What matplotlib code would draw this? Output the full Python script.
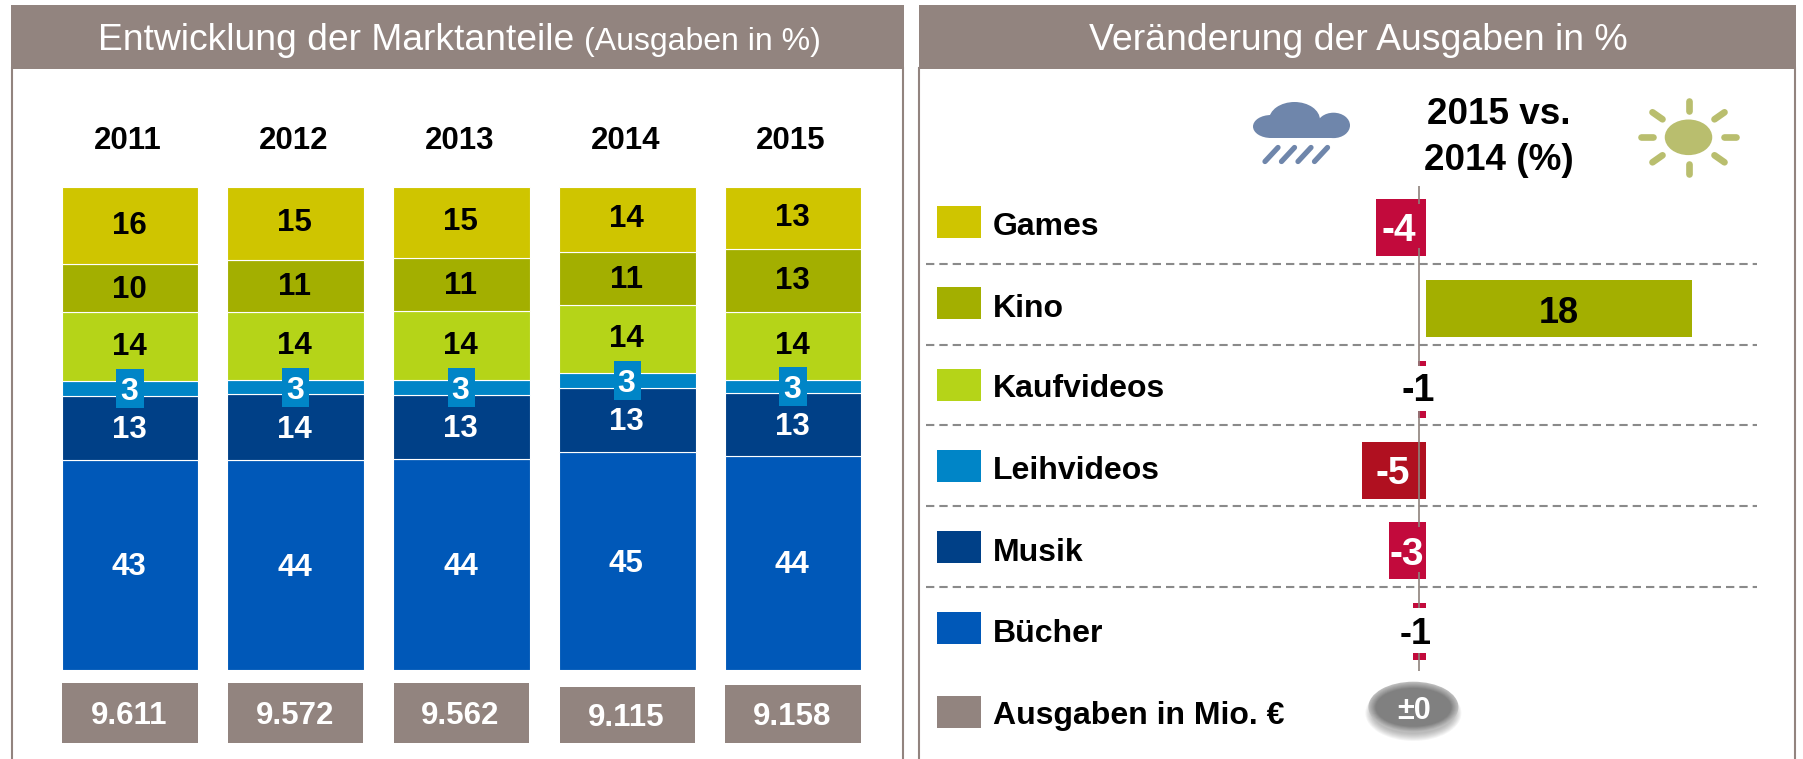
import matplotlib
matplotlib.use("Agg")
import matplotlib.pyplot as plt
from matplotlib.patches import Rectangle, Ellipse

plt.rcParams['font.family'] = ['Liberation Sans', 'DejaVu Sans']

# ---------- data ----------
years = ['2011', '2012', '2013', '2014', '2015']
segments = ['Games', 'Kino', 'Kaufvideos', 'Leihvideos', 'Musik', 'Bücher']
games = [16.0, 15.04, 14.7, 13.39, 12.7]
kino = [9.94, 10.9, 11.04, 10.9, 13.04]
kaufvideos = [14.2, 13.94, 14.15, 14.2, 14.15]
leihvideos = [3.04, 3.04, 3.04, 2.97, 2.62]
musik = [13.2, 13.53, 13.25, 13.3, 13.04]
buecher = [43.6, 43.55, 43.8, 45.2, 44.4]
label_games = ['16', '15', '15', '14', '13']
label_kino = ['10', '11', '11', '11', '13']
label_kauf = ['14', '14', '14', '14', '14']
label_leih = ['3', '3', '3', '3', '3']
label_musik = ['13', '14', '13', '13', '13']
label_buecher = ['43', '44', '44', '45', '44']
totals = ['9.611', '9.572', '9.562', '9.115', '9.158']
change_values = [-3.35, 18, -0.55, -4.3, -2.5, -0.9]
change_labels = ['-4', '18', '-1', '-5', '-3', '-1']
legend_labels = segments + ['Ausgaben in Mio. €']
overall_change = '±0'

# ---------- style ----------
W, H = 1803, 759
BROWN = '#92847F'
C_GAMES, C_KINO, C_KAUF = '#CFC500', '#A3AF00', '#B5D418'
C_LEIH, C_MUSIK, C_BUCH = '#0085C7', '#004087', '#0058B8'
RED, DARKRED = '#C20A3C', '#B01020'
seg_colors = [C_GAMES, C_KINO, C_KAUF, C_LEIH, C_MUSIK, C_BUCH]
seg_text = ['black', 'black', 'black', 'white', 'white', 'white']
label_shift = [0.75, 0.45, 0.65, 0.0, 0.2, 0.2]

fig = plt.figure(figsize=(W / 100, H / 100), dpi=100, facecolor='white')


def axes_px(x0, y0, x1, y1, z=1):
    ax = fig.add_axes([x0 / W, 1 - y1 / H, (x1 - x0) / W, (y1 - y0) / H], zorder=z)
    ax.set_axis_off()
    ax.patch.set_alpha(0)
    return ax


def txt(ax, x, y, s, size, color='black', weight='bold', ha='center', z=10):
    """y is the centre of the digit height."""
    ax.text(x, y + 0.35 * size * 100 / 72, s, fontsize=size, color=color, weight=weight,
            ha=ha, va='baseline', zorder=z)


# overlays in pixels
ov = axes_px(0, 0, W, H, 0)
ov.set_xlim(0, W)
ov.set_ylim(H, 0)
top = axes_px(0, 0, W, H, 5)
top.set_xlim(0, W)
top.set_ylim(H, 0)

# panels
for x0, x1 in [(11, 904), (918.5, 1795.5)]:
    ov.add_patch(Rectangle((x0, 5), x1 - x0, 63.5, color=BROWN, lw=0))
    ov.plot([x0 + .7, x0 + .7], [68, H], color=BROWN, lw=1.5)
    ov.plot([x1 - .7, x1 - .7], [68, H], color=BROWN, lw=1.5)

ov.text(98.5, 50, 'Entwicklung der Marktanteile', fontsize=26.8, color='white', va='baseline')
ov.text(584, 50, '(Ausgaben in %)', fontsize=23, color='white', va='baseline')
ov.text(1358, 50, 'Veränderung der Ausgaben in %', fontsize=26.9, color='white', va='baseline', ha='center')

# ---------- stacked bars ----------
ax = axes_px(62, 187, 861, 670.2, 1)
ax.set_xlim(-0.41, 4.41)
ax.set_ylim(0, 100)
series = [games, kino, kaufvideos, leihvideos, musik, buecher]
labels = [label_games, label_kino, label_kauf, label_leih, label_musik, label_buecher]
xs = list(range(len(years)))
bottoms = [0.0] * 5
centres = {}
for i in range(5, -1, -1):
    ax.bar(xs, series[i], bottom=bottoms, width=0.825, color=seg_colors[i],
           edgecolor='white', linewidth=0.8)
    centres[i] = [b + v / 2 for b, v in zip(bottoms, series[i])]
    bottoms = [b + v for b, v in zip(bottoms, series[i])]
ax.bar(xs, [8.08] * 5, bottom=[c - 4.04 for c in centres[3]], width=0.165, color=C_LEIH, zorder=4)
for i in range(6):
    for x, c, s in zip(xs, centres[i], labels[i]):
        ax.text(x - 0.006, c + label_shift[i], s, fontsize=22.5 if i != 3 else 23, color=seg_text[i],
                weight='bold', ha='center', va='center_baseline', zorder=6)
for x, y in zip(xs, years):
    ax.text(x - 0.012, 100 + 49 / 4.827, y, fontsize=22.5, weight='bold', ha='center',
            va='center_baseline', clip_on=False)

# ---------- totals ----------
ax_tot = axes_px(62, 683, 861, 743, 1)
ax_tot.set_xlim(-0.41, 4.41)
ax_tot.set_ylim(0, 60)
box_heights = [60, 60, 60, 56, 58]
ax_tot.bar(xs, box_heights, width=0.815, color=BROWN)
for x, h, s in zip(xs, box_heights, totals):
    ax_tot.text(x - 0.006, 30.3 - (60 - h) * 0.5, s, fontsize=22.5, color='white', weight='bold',
                ha='center', va='center_baseline')

# ---------- right panel header ----------
ov.text(1499, 111, '2015 vs.', fontsize=26.6, weight='bold', ha='center', va='center_baseline')
ov.text(1499, 157, '2014 (%)', fontsize=26.6, weight='bold', ha='center', va='center_baseline')

# cloud
CLOUD = '#6F86AB'
for cx, cy, w, h in [(1271, 126.5, 36, 23), (1294.5, 120, 51, 36), (1333.5, 125.4, 33, 25.4)]:
    ov.add_patch(Ellipse((cx, cy), w, h, color=CLOUD, lw=0))
ov.add_patch(Rectangle((1271, 124), 62, 14, color=CLOUD, lw=0))
for dx in [0, 16.5, 33, 49.5]:
    ov.plot([1278 + dx, 1265 + dx], [147.5, 161.5], color=CLOUD, lw=3.8, solid_capstyle='round')

# sun
SUN = '#B9BE6E'
sx, sy = 1688.5, 137.3
ov.add_patch(Ellipse((sx, sy), 47.5, 35.6, color=SUN, lw=0))
rays = [((-47.5, 0), (-35.5, 0)), ((35.5, 0), (47.5, 0)), ((0, -36.5), (0, -26.5)), ((0, 27), (0, 37)),
        ((-36, -25), (-26, -18)), ((36, -25), (26, -18)), ((-36, 25), (-26, 18)), ((36, 25), (26, 18))]
for (a, c), (b, d) in rays:
    ov.plot([sx + a, sx + b], [sy + c, sy + d], color=SUN, lw=4.8, solid_capstyle='round')

# ---------- legend ----------
leg_colors = seg_colors + [BROWN]
leg_tops = [206, 287.3, 369, 450.3, 531, 612.3, 696]
leg_base = [234.7, 316.7, 397.3, 479.3, 561, 641.7, 724.3]
for t, b, col, lab in zip(leg_tops, leg_base, leg_colors, legend_labels):
    ov.add_patch(Rectangle((937.3, t), 43.3, 32, color=col, lw=0))
    ov.text(993, b, lab, fontsize=23, weight='bold', va='baseline')

# separators
for y in [263.7, 344.7, 425, 506, 586.7]:
    ov.plot([926, 1757], [y, y], color='#8A8A8A', lw=1.5, dashes=(4.0, 2.4))

# ---------- change bars ----------
PX = 14.8
ax_r = axes_px(1300, 187, 1750, 672, 2)
ax_r.set_xlim((1300 - 1426) / PX, (1750 - 1426) / PX)
ax_r.set_ylim((672 - 227.8) / 80.75, (187 - 227.8) / 80.75)
bar_cols = [RED, C_KINO, RED, DARKRED, RED, RED]
ax_r.barh(range(6), change_values, height=0.705, color=bar_cols)

# axis line, interrupted by label backings
for y0, y1 in [(186, 204), (248, 365.7), (410.7, 526.7), (571.7, 607.7), (653.3, 670.7)]:
    top.plot([1418.5, 1418.5], [y0, y1], color='#8E827C', lw=1.2, zorder=3, solid_capstyle='butt')
# white backing of the small bars' labels
for y0, y1 in [(365.7, 410.7), (607.7, 653.3)]:
    top.add_patch(Rectangle((1400, y0), 35, y1 - y0, color='white', lw=0, zorder=2))

label_pos = [(1399, 227.7, 'white', 28), (1558.5, 310, 'black', 26), (1418.5, 388, 'black', 27),
             (1393, 470.7, 'white', 28), (1406.6, 551.7, 'white', 28), (1416, 631.7, 'black', 26)]
for (x, y, col, size), s in zip(label_pos, change_labels):
    txt(top, x, y, s, size, color=col)

# ±0 badge
for k in range(8):
    top.add_patch(Ellipse((1413.4, 713), 96 - 2 * k, 56 - 2 * k, color='#444444', alpha=0.05, lw=0))
for k in range(8):
    f = k / 7
    g = 0.74 - 0.24 * f
    top.add_patch(Ellipse((1413.4, 707 + 0.3 * f), 90 - 14 * f, 50.6 - 12 * f, color=(g, g, g), lw=0))
txt(top, 1414, 708, overall_change, 22, color='white')

fig.savefig('out.png', dpi=100, facecolor='white')
